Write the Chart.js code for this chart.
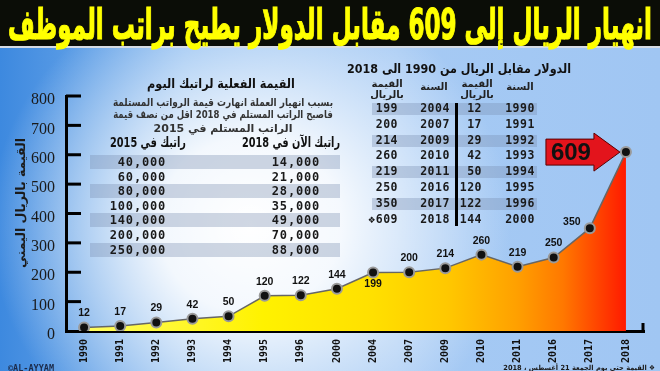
<!DOCTYPE html>
<html lang="ar">
<head>
<meta charset="utf-8">
<script src="https://cdn.jsdelivr.net/npm/chart.js@4"></script>
<style>
html, body { margin: 0; padding: 0; }
body {
  width: 660px; height: 371px; overflow: hidden; position: relative;
  font-family: "DejaVu Sans", sans-serif;
  background:
    radial-gradient(ellipse 260px 250px at 250px 225px, rgba(255,255,255,1) 0%, rgba(255,255,255,0.9) 35%, rgba(255,255,255,0) 100%),
    linear-gradient(90deg, #3d89df 0%, #86b8ef 28%, #a6caf4 60%, #a0c6f3 100%);
}
#titlebar { position: absolute; left: 0; top: 0; width: 660px; height: 46px; background: #0b0d07; border-bottom: 2px solid #d5dbe3; }
#chart { position: absolute; left: 0; top: 0; }
#overlay { position: absolute; left: 0; top: 0; width: 660px; height: 371px; pointer-events: none; }
.t { position: absolute; white-space: nowrap; line-height: 1; }
.band { position: absolute; background: rgba(120, 140, 175, 0.35); }
.bar { position: absolute; background: #000; }
</style>
</head>
<body>
<div id="titlebar"></div>
<canvas id="chart" width="660" height="371"></canvas>
<div id="overlay"></div>
<script>
// Chart data
const years = ["1990","1991","1992","1993","1994","1995","1996","2000","2004","2007","2009","2010","2011","2016","2017","2018"];
const rates = [12, 17, 29, 42, 50, 120, 122, 144, 199, 200, 214, 260, 219, 250, 350, 609];
const yMax = 800;
const yStep = 100;

// Salary table
const salary2015 = ["40,000","60,000","80,000","100,000","140,000","200,000","250,000"];
const salary2018 = ["14,000","21,000","28,000","35,000","49,000","70,000","88,000"];

// Texts
const titleText = "انهيار الريال إلى 609 مقابل الدولار يطيح براتب الموظف";
const rateTableTitle = "الدولار مقابل الريال من 1990 الى 2018";
const salaryTitle = "القيمة الفعلية لراتبك اليوم";
const salaryNote = ["بسبب انهيار العملة انهارت قيمة الرواتب المستلمة", "فاصبح الراتب المستلم في 2018 اقل من نصف قيمة", "الراتب المستلم في 2015"];
const yTitle = "القيمة بالريال اليمني";
const footNote = "❖ القيمة حتى يوم الجمعة 21 أغسطس ، 2018";

const overlay = document.getElementById("overlay");

// place a text centered / right aligned at (x, y), squeezed to maxW if wider
function addText(txt, x, y, css, align, maxW, rtl) {
  const d = document.createElement("div");
  d.className = "t";
  d.textContent = txt;
  if (rtl) d.dir = "rtl";
  d.style.cssText += css;
  overlay.appendChild(d);
  const w = d.offsetWidth;
  let s = 1;
  if (maxW && w > maxW) s = maxW / w;
  d.style.left = x + "px";
  d.style.top = y + "px";
  if (align === "right") {
    d.style.transformOrigin = "100% 50%";
    d.style.transform = "translate(-100%,-50%) scaleX(" + s + ")";
  } else {
    d.style.transformOrigin = "50% 50%";
    d.style.transform = "translate(-50%,-50%) scaleX(" + s + ")";
  }
  return d;
}
function addBox(cls, x, y, w, h) {
  const d = document.createElement("div");
  d.className = cls;
  d.style.left = x + "px"; d.style.top = y + "px";
  d.style.width = w + "px"; d.style.height = h + "px";
  overlay.appendChild(d);
}

// title
addText(titleText, 330, 25, "font-weight:bold;font-size:42px;color:#ffff00;-webkit-text-stroke:1.2px #ffff00;", "center", 644, true);

// right table: rates by year
addText(rateTableTitle, 459, 68, "font-weight:bold;font-size:13px;color:#111;", "center", 224, true);
const hdr = "font-weight:bold;font-size:10px;color:#222;";
addText("السنة", 520, 87, hdr, "center", 0, true);
addText("السنة", 434, 87, hdr, "center", 0, true);
addText("القيمة", 477, 84, hdr, "center", 0, true);
addText("بالريال", 477, 95, hdr, "center", 0, true);
addText("القيمة", 387, 84, hdr, "center", 0, true);
addText("بالريال", 387, 95, hdr, "center", 0, true);
const mono = "font-family:'DejaVu Sans Mono',monospace;font-weight:bold;font-size:11.5px;color:#1a1a1a;letter-spacing:0.5px;";
const half = years.length / 2;
for (let i = 0; i < half; i++) {
  const y = 109 + i * 15.8;
  if (i % 2 === 0) addBox("band", 372, y - 6, 165, 12);
  addText(years[i], 520, y, mono, "center");
  addText(String(rates[i]), 482, y, mono, "right");
  addText(years[i + half], 435, y, mono, "center");
  const v = String(rates[i + half]);
  addText(i === half - 1 ? "❖" + v : v, 398, y, mono, "right");
}
addBox("bar", 455, 103, 3, 123);

// left table: salaries
addText(salaryTitle, 221, 83, "font-weight:bold;font-size:13px;color:#111;", "center", 148, true);
salaryNote.forEach((s, i) => {
  addText(s, 223, [102, 114, 128][i], "font-weight:bold;font-size:11px;color:#333;", "center", 220, true);
});
addText("راتبك في 2015", 148, 142, "font-weight:bold;font-size:14px;color:#111;", "center", 76, true);
addText("راتبك الآن في 2018", 291, 142, "font-weight:bold;font-size:14px;color:#111;", "center", 98, true);
const mono2 = "font-family:'DejaVu Sans Mono',monospace;font-weight:bold;font-size:12px;color:#1a1a1a;letter-spacing:0.8px;";
salary2015.forEach((v, i) => {
  const y = 162 + i * 14.6;
  if (i % 2 === 0) addBox("band", 90, y - 7, 250, 14);
  addText(v, 166, y, mono2, "right");
  addText(salary2018[i], 320, y, mono2, "right");
});

// axis title, credit, footnote
const yt = addText(yTitle, 21, 203, "font-weight:bold;font-size:12.5px;color:#1b1b1b;", "center", 0, true);
yt.style.transform += " rotate(-90deg)";
addText("©AL-AYYAM", 31, 368, "font-family:'DejaVu Sans Mono',monospace;font-weight:bold;font-size:8.5px;color:#1c2b4a;", "center");
addText(footNote, 655, 368, "font-weight:bold;font-size:7px;color:#1a1a1a;", "right", 152, true);

// chart plugins
const yTickMarks = {
  id: "yTickMarks",
  afterDraw(chart) {
    const ctx = chart.ctx, a = chart.chartArea, ys = chart.scales.y;
    ctx.save();
    ctx.strokeStyle = "#000";
    ctx.lineWidth = 3;
    ys.ticks.forEach(t => {
      if (t.value === 0) return;
      const y = ys.getPixelForValue(t.value);
      ctx.beginPath(); ctx.moveTo(a.left, y); ctx.lineTo(a.left + 15, y); ctx.stroke();
    });
    ctx.beginPath(); ctx.moveTo(a.right - 1, a.bottom); ctx.lineTo(a.right - 1, a.bottom - 8); ctx.stroke();
    ctx.restore();
  }
};

const valueLabels = {
  id: "valueLabels",
  afterDatasetsDraw(chart) {
    const ctx = chart.ctx;
    const pts = chart.getDatasetMeta(0).data;
    ctx.save();
    ctx.font = 'bold 10.5px "Liberation Sans"';
    ctx.fillStyle = "#111";
    ctx.textAlign = "center";
    ctx.textBaseline = "middle";
    pts.forEach((p, i) => {
      if (i === pts.length - 1) return;
      let dx = 0, dy = -14;
      if (years[i] === "2004") dy = 12;
      if (years[i] === "2017") { dx = -18; dy = -6; }
      ctx.fillText(String(rates[i]), p.x + dx, p.y + dy);
    });
    // arrow pointing at the last value
    const p = pts[pts.length - 1];
    const tipX = p.x - 6, tipY = p.y;
    const baseX = tipX - 26, left = tipX - 74;
    ctx.beginPath();
    ctx.moveTo(left, tipY - 13);
    ctx.lineTo(baseX, tipY - 13);
    ctx.lineTo(baseX, tipY - 19);
    ctx.lineTo(tipX, tipY);
    ctx.lineTo(baseX, tipY + 19);
    ctx.lineTo(baseX, tipY + 13);
    ctx.lineTo(left, tipY + 13);
    ctx.closePath();
    ctx.fillStyle = "#e3141c";
    ctx.fill();
    ctx.strokeStyle = "#5a0000";
    ctx.lineWidth = 1;
    ctx.stroke();
    ctx.fillStyle = "#111";
    ctx.font = 'bold 24px "Liberation Sans"';
    ctx.fillText(String(rates[rates.length - 1]), left + 25, tipY + 1);
    ctx.restore();
  }
};

new Chart(document.getElementById("chart"), {
  type: "line",
  data: {
    labels: years,
    datasets: [{
      data: rates,
      fill: "origin",
      borderColor: "#666",
      borderWidth: 1.5,
      tension: 0,
      pointRadius: 5,
      pointBackgroundColor: "#111",
      pointBorderColor: "#9a9a9a",
      pointBorderWidth: 2,
      backgroundColor: (c) => {
        const a = c.chart.chartArea;
        if (!a) return "#ffdd00";
        const g = c.chart.ctx.createLinearGradient(a.left, 0, a.right, 0);
        g.addColorStop(0, "#ffff6a");
        g.addColorStop(0.34, "#fff200");
        g.addColorStop(0.53, "#ffe000");
        g.addColorStop(0.66, "#ffc800");
        g.addColorStop(0.78, "#ffa000");
        g.addColorStop(0.86, "#ff7800");
        g.addColorStop(0.92, "#ff4400");
        g.addColorStop(1, "#ff0000");
        return g;
      }
    }]
  },
  options: {
    responsive: false,
    animation: false,
    devicePixelRatio: 1,
    layout: { padding: { top: 96, right: 16, left: 0, bottom: 0 } },
    plugins: { legend: { display: false }, tooltip: { enabled: false } },
    scales: {
      x: {
        offset: true,
        grid: { display: false },
        border: { color: "#000", width: 3 },
        ticks: {
          autoSkip: false, minRotation: 90, maxRotation: 90, padding: 0,
          color: "#111",
          font: { family: "DejaVu Sans Mono", weight: "bold", size: 10 }
        },
        afterFit(s) { s.height = 40; }
      },
      y: {
        min: 0, max: yMax,
        grid: { display: false },
        border: { color: "#000", width: 3 },
        ticks: {
          stepSize: yStep, padding: 3, labelOffset: 4, color: "#1a1a1a",
          font: { family: "Liberation Serif", size: 16 }
        },
        afterFit(s) { s.width = 66; }
      }
    }
  },
  plugins: [yTickMarks, valueLabels]
});
</script>
</body>
</html>
